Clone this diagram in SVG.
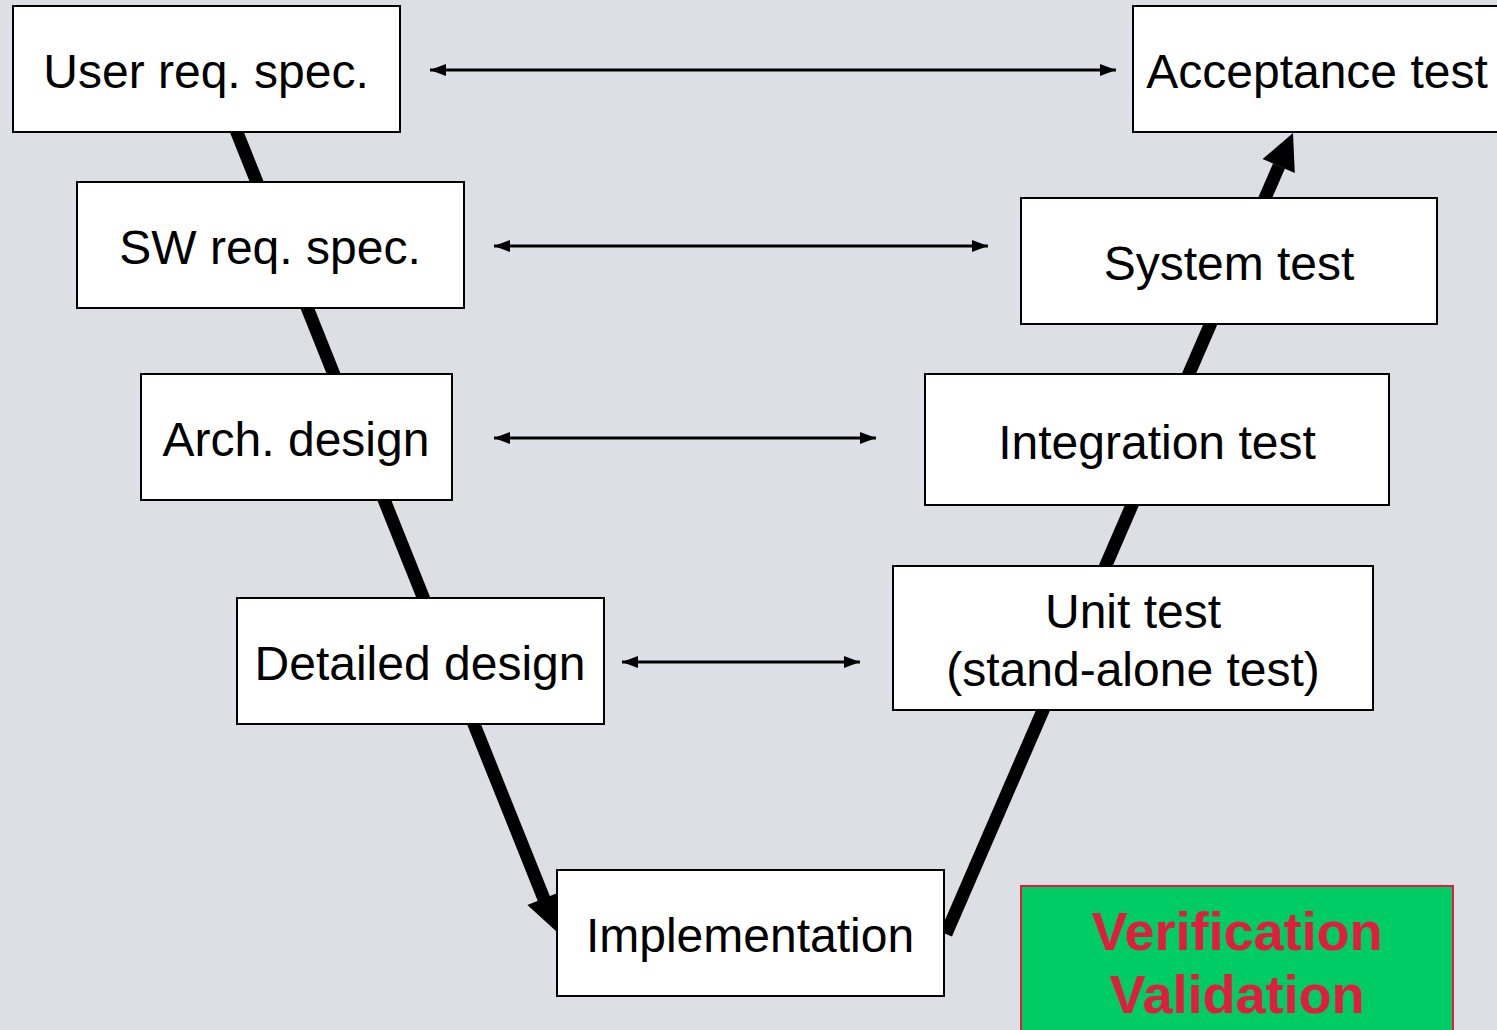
<svg xmlns="http://www.w3.org/2000/svg" width="1497" height="1030" viewBox="0 0 1497 1030">
<style>
.box{fill:#fff;stroke:#000;stroke-width:2}
.t{font-family:"Liberation Sans",Arial,sans-serif;font-size:48px;fill:#000;text-anchor:middle}
.v{stroke:#000;stroke-width:13;fill:none}
.h{stroke:#000;stroke-width:3;fill:none}
.head{fill:#000}
.vt{font-family:"Liberation Sans",Arial,sans-serif;font-size:54px;font-weight:bold;fill:#E31B3C;text-anchor:middle}
</style>
<defs>
<marker id="sm" markerUnits="userSpaceOnUse" markerWidth="16" markerHeight="12" refX="16" refY="6" orient="auto-start-reverse" viewBox="0 0 16 12">
<path d="M0,0 L16,6 L0,12 Z" fill="#000"/>
</marker>
</defs>
<rect width="1497" height="1030" fill="#DCE0E4"/>
<g id="connectors">
<line class="v" x1="234" y1="125" x2="544" y2="899"/>
<polygon class="head" points="557,932 527.4,905 560,892"/>
<line class="v" x1="946" y1="934" x2="1279" y2="166"/>
<polygon class="head" points="1293,133 1262.6,159 1294.8,173"/>
<line class="h" x1="430" y1="70" x2="1116" y2="70" marker-start="url(#sm)" marker-end="url(#sm)"/>
<line class="h" x1="494" y1="246" x2="988" y2="246" marker-start="url(#sm)" marker-end="url(#sm)"/>
<line class="h" x1="494" y1="438" x2="876" y2="438" marker-start="url(#sm)" marker-end="url(#sm)"/>
<line class="h" x1="622" y1="662" x2="860" y2="662" marker-start="url(#sm)" marker-end="url(#sm)"/>
</g>
<g id="user-req"><rect class="box" x="13" y="6" width="387" height="126"/><text class="t" x="206" y="88">User req. spec.</text></g>
<g id="acceptance"><rect class="box" x="1133" y="6" width="380" height="126"/><text class="t" x="1317" y="88">Acceptance test</text></g>
<g id="sw-req"><rect class="box" x="77" y="182" width="387" height="126"/><text class="t" x="270" y="264">SW req. spec.</text></g>
<g id="system-test"><rect class="box" x="1021" y="198" width="416" height="126"/><text class="t" x="1229" y="280">System test</text></g>
<g id="arch"><rect class="box" x="141" y="374" width="311" height="126"/><text class="t" x="296" y="456">Arch. design</text></g>
<g id="integration"><rect class="box" x="925" y="374" width="464" height="131"/><text class="t" x="1157" y="459">Integration test</text></g>
<g id="detailed"><rect class="box" x="237" y="598" width="367" height="126"/><text class="t" x="420" y="680">Detailed design</text></g>
<g id="unit"><rect class="box" x="893" y="566" width="480" height="144"/><text class="t" x="1133" y="628">Unit test</text><text class="t" x="1133" y="686">(stand-alone test)</text></g>
<g id="implementation"><rect class="box" x="557" y="870" width="387" height="126"/><text class="t" x="750" y="952">Implementation</text></g>
<g id="vv"><rect x="1021" y="886" width="432" height="160" fill="#00CC66" stroke="#E31B3C" stroke-width="2"/><text class="vt" x="1237" y="950">Verification</text><text class="vt" x="1237" y="1013">Validation</text></g>
</svg>
